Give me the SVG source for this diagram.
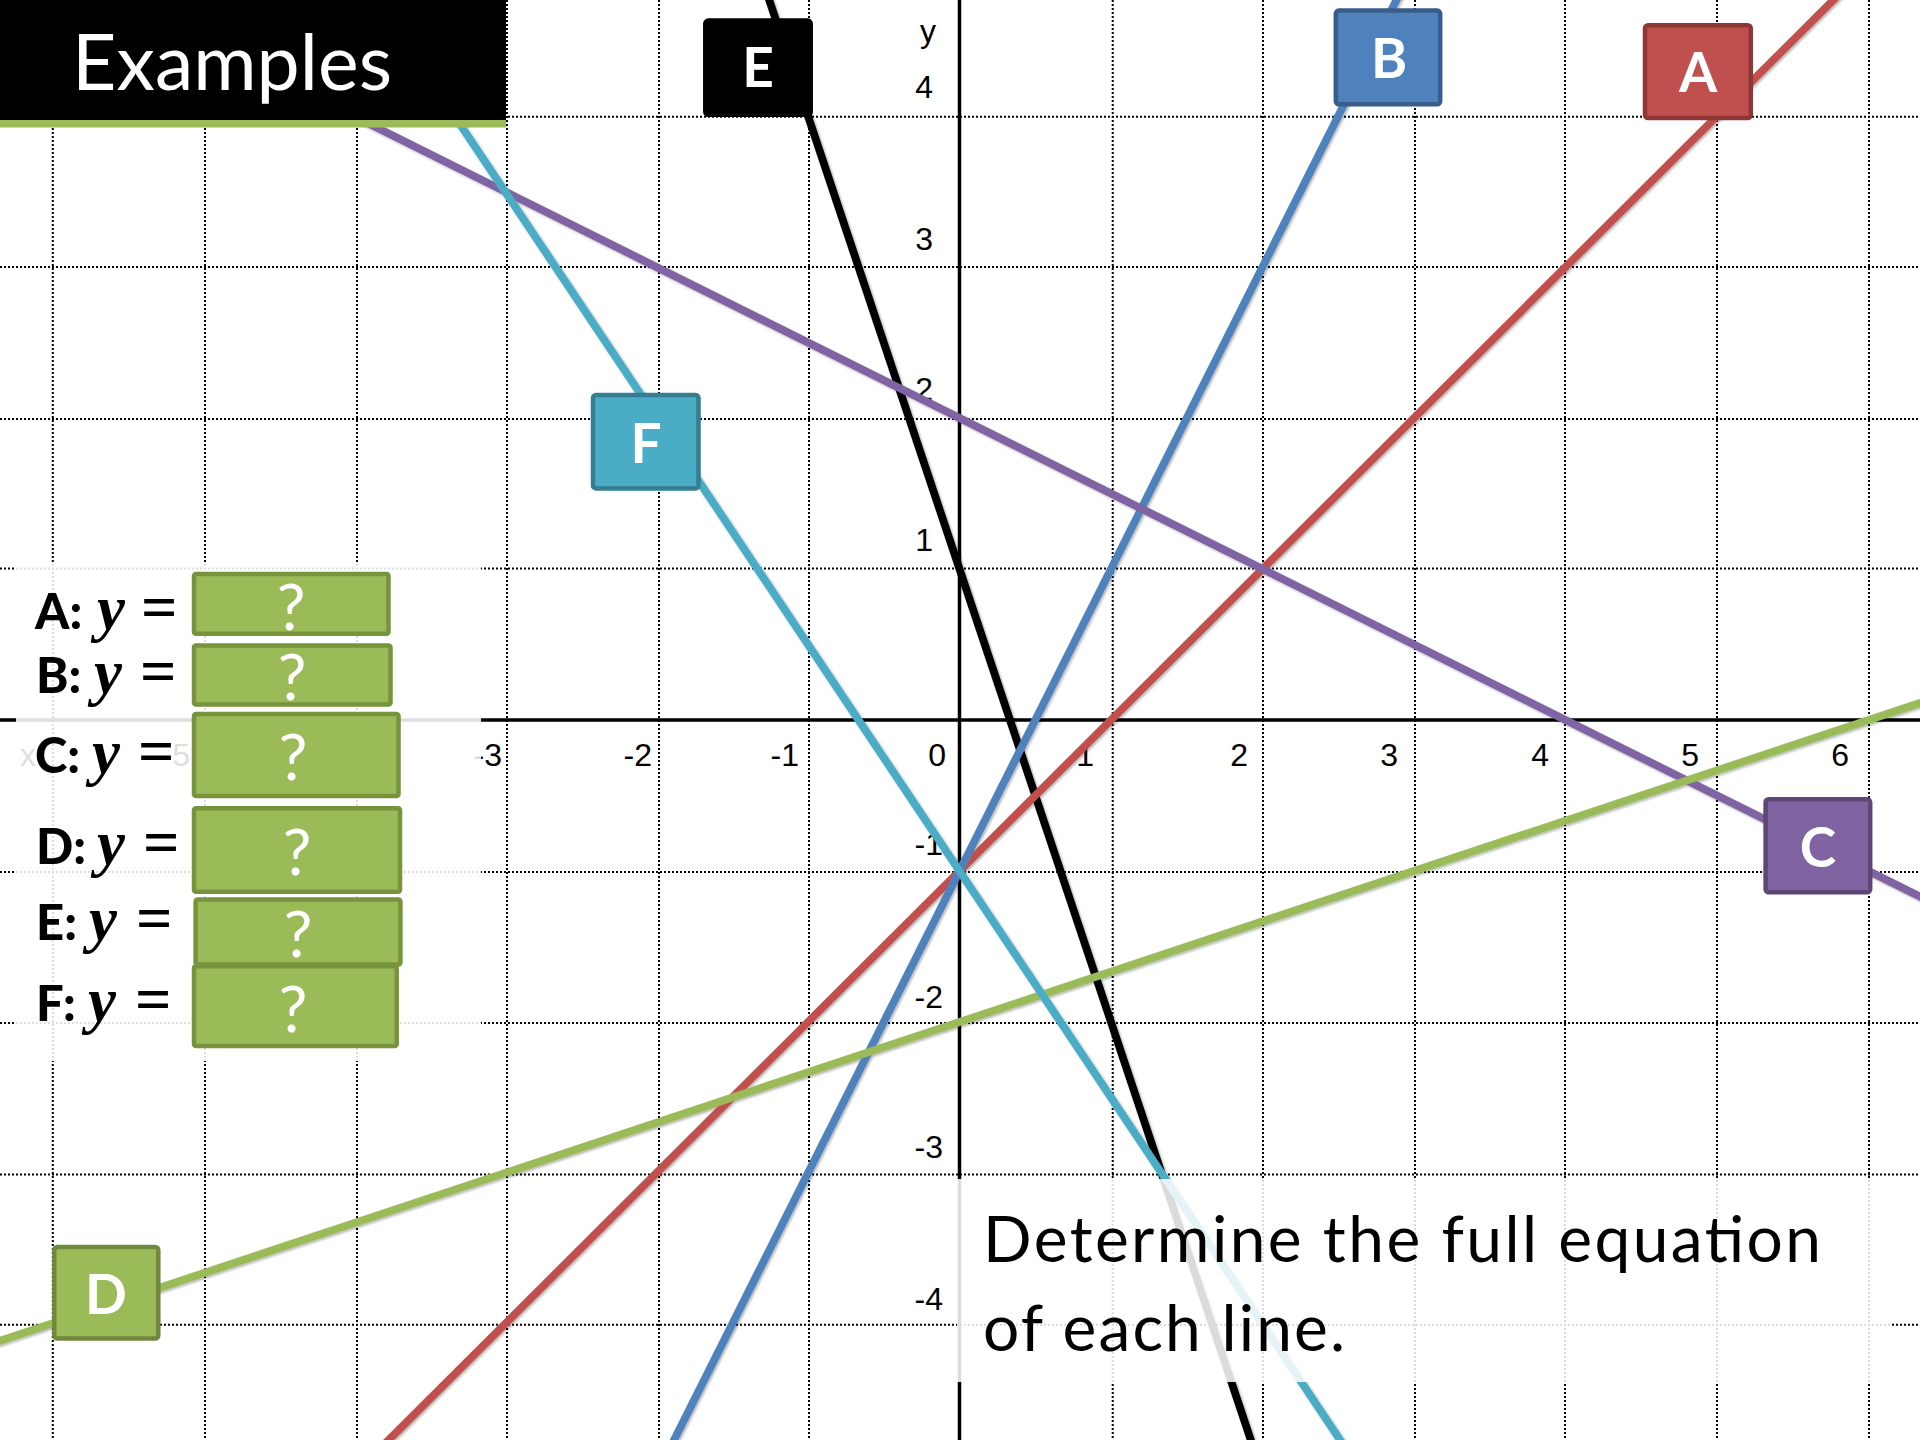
<svg xmlns="http://www.w3.org/2000/svg" width="1920" height="1440" viewBox="0 0 1920 1440">
<defs>
<style>
.grid{stroke:#000;stroke-width:2;stroke-dasharray:2 2;fill:none}
.axis{stroke:#000;stroke-width:3.5;fill:none}
.tick{font-family:"Liberation Sans",Arial,sans-serif;font-size:32px;fill:#000;text-anchor:end}
.ln{fill:none;stroke-width:7.8;stroke-linecap:butt}
.tag{stroke-width:4.5}
.tagt{font-family:Lato,"Open Sans",sans-serif;font-weight:bold;font-size:55px;fill:#fff;text-anchor:middle}
.lab{font-family:Lato,"Open Sans",sans-serif;font-weight:900;font-size:49px;fill:#000}
.my{font-family:"Liberation Serif","Times New Roman",serif;font-style:italic;font-weight:bold;font-size:63px;fill:#000}
.eq{font-family:"Liberation Serif","Times New Roman",serif;font-weight:bold;font-size:64px;fill:#000}
.qbox{fill:#9BBB59;stroke:#77933C;stroke-width:4.5}
.q{font-family:Lato,"Open Sans",sans-serif;font-size:64px;fill:#fff;text-anchor:middle}
.big{font-family:Lato,"Open Sans",sans-serif;font-size:64px;fill:#000}
</style>
<filter id="sh" x="-5%" y="-5%" width="110%" height="110%">
<feDropShadow dx="1.5" dy="1.5" stdDeviation="1.2" flood-color="#000" flood-opacity="0.3"/>
</filter>
</defs>
<rect x="0" y="0" width="1920" height="1440" fill="#fff"/>
<g id="grid">
<path class="grid" d="M52.8 0V1440M205 0V1440M357 0V1440M507 0V1440M659 0V1440M809 0V1440M1112.7 0V1440M1263 0V1440M1415 0V1440M1565 0V1440M1717 0V1440M1869 0V1440"/>
<path class="grid" d="M0 116.7H1920M0 267H1920M0 419H1920M0 568.5H1920M0 872H1920M0 1023H1920M0 1174.5H1920M0 1324.7H1920"/>
</g>
<g id="axes">
<path class="axis" d="M0 720H1920"/>
<path class="axis" d="M959.5 0V1440"/>
</g>
<g id="ticks">
<text class="tick" x="936" y="42">y</text>
<text class="tick" x="933" y="98">4</text>
<text class="tick" x="933" y="250">3</text>
<text class="tick" x="933" y="400">2</text>
<text class="tick" x="933" y="551">1</text>
<text class="tick" x="943" y="855">-1</text>
<text class="tick" x="943" y="1008">-2</text>
<text class="tick" x="943" y="1158">-3</text>
<text class="tick" x="943" y="1310">-4</text>
<text class="tick" x="36" y="766">x</text>
<text class="tick" x="190" y="766">-5</text>
<text class="tick" x="502" y="766">-3</text>
<text class="tick" x="652" y="766">-2</text>
<text class="tick" x="799" y="766">-1</text>
<text class="tick" x="946" y="766">0</text>
<text class="tick" x="1094" y="766">1</text>
<text class="tick" x="1248" y="766">2</text>
<text class="tick" x="1398" y="766">3</text>
<text class="tick" x="1549" y="766">4</text>
<text class="tick" x="1699" y="766">5</text>
<text class="tick" x="1849" y="766">6</text>
</g>
<g id="connectors" filter="url(#sh)">
<path id="line-E" class="ln" stroke="#000" d="M732.25 -110.5L1262.5 1475"/>
<path id="line-A" class="ln" stroke="#C0504D" d="M353.5 1475L1868.5 -35"/>
<path id="line-B" class="ln" stroke="#4F81BD" d="M656.5 1475L1414 -35"/>
<path id="line-C" class="ln" stroke="#8064A2" d="M-101 -110.5L2020 946.5"/>
<path id="line-D" class="ln" stroke="#9BBB59" d="M-101 1374.3L2020 669.7"/>
<path id="line-F" class="ln" stroke="#4BACC6" d="M353.5 -35L1414 1550.5"/>
</g>
<rect id="legend-bg" x="16" y="563" width="465" height="498" fill="#fff" fill-opacity="0.87"/>
<g id="tag-A"><rect class="tag" x="1645" y="25.3" width="105.8" height="92.7" rx="3" fill="#C0504D" stroke="#8C3836"/><text class="tagt" x="1698" y="92">A</text></g>
<g id="tag-B"><rect class="tag" x="1335.8" y="10.6" width="104.4" height="93.6" rx="3" fill="#4F81BD" stroke="#385D8A"/><text class="tagt" x="1389" y="78">B</text></g>
<g id="tag-C"><rect class="tag" x="1765.6" y="799.3" width="104.6" height="93" rx="3" fill="#8064A2" stroke="#5C4776"/><text class="tagt" x="1818" y="867">C</text></g>
<g id="tag-D"><rect class="tag" x="54.3" y="1247" width="104" height="91.5" rx="3" fill="#9BBB59" stroke="#71893F"/><text class="tagt" x="106" y="1314">D</text></g>
<g id="tag-E"><rect class="tag" x="705.3" y="20.6" width="105.4" height="94.2" rx="3" fill="#000" stroke="#000"/><text class="tagt" x="758" y="87">E</text></g>
<g id="tag-F"><rect class="tag" x="593" y="395" width="105.5" height="93.4" rx="3" fill="#4BACC6" stroke="#357D91"/><text class="tagt" x="646" y="463">F</text></g>
<g id="header">
<rect x="0" y="0" width="506" height="120" fill="#000"/>
<rect x="0" y="120" width="506" height="7.5" fill="#9BBB59"/>
<text x="72" y="90" font-family="Lato,'Open Sans',sans-serif" font-size="77" fill="#fff" textLength="320">Examples</text>
</g>
<g id="legend-A"><text class="lab" x="35" y="629">A:</text><text class="my" x="97" y="629">y</text><text class="eq" x="141" y="629">=</text><rect class="qbox" x="194" y="574" width="194.5" height="59.8" rx="2"/><text class="q" x="291" y="630">?</text></g>
<g id="legend-B"><text class="lab" x="36" y="693">B:</text><text class="my" x="94" y="693">y</text><text class="eq" x="140" y="693">=</text><rect class="qbox" x="194" y="645.6" width="196.5" height="58.8" rx="2"/><text class="q" x="292" y="700">?</text></g>
<g id="legend-C"><text class="lab" x="35" y="773">C:</text><text class="my" x="92" y="773">y</text><text class="eq" x="138" y="773">=</text><rect class="qbox" x="194" y="714" width="204.5" height="82" rx="2"/><text class="q" x="293" y="780">?</text></g>
<g id="legend-D"><text class="lab" x="36" y="864">D:</text><text class="my" x="97" y="864">y</text><text class="eq" x="143" y="864">=</text><rect class="qbox" x="194" y="808.3" width="206" height="83.4" rx="2"/><text class="q" x="297" y="875">?</text></g>
<g id="legend-E"><text class="lab" x="36" y="940">E:</text><text class="my" x="89" y="940">y</text><text class="eq" x="136" y="940">=</text><rect class="qbox" x="195.6" y="899.6" width="204.8" height="64.8" rx="2"/><text class="q" x="298" y="957">?</text></g>
<g id="legend-F"><text class="lab" x="36" y="1021">F:</text><text class="my" x="88" y="1021">y</text><text class="eq" x="135" y="1021">=</text><rect class="qbox" x="194" y="966.3" width="202.7" height="79.7" rx="2"/><text class="q" x="293" y="1032">?</text></g>
<g id="instruction">
<rect x="957" y="1179" width="934" height="203" fill="#fff" fill-opacity="0.86"/>
<text class="big" x="983" y="1262" textLength="838">Determine the full equation</text>
<text class="big" x="983" y="1351" textLength="362">of each line.</text>
</g>
</svg>
